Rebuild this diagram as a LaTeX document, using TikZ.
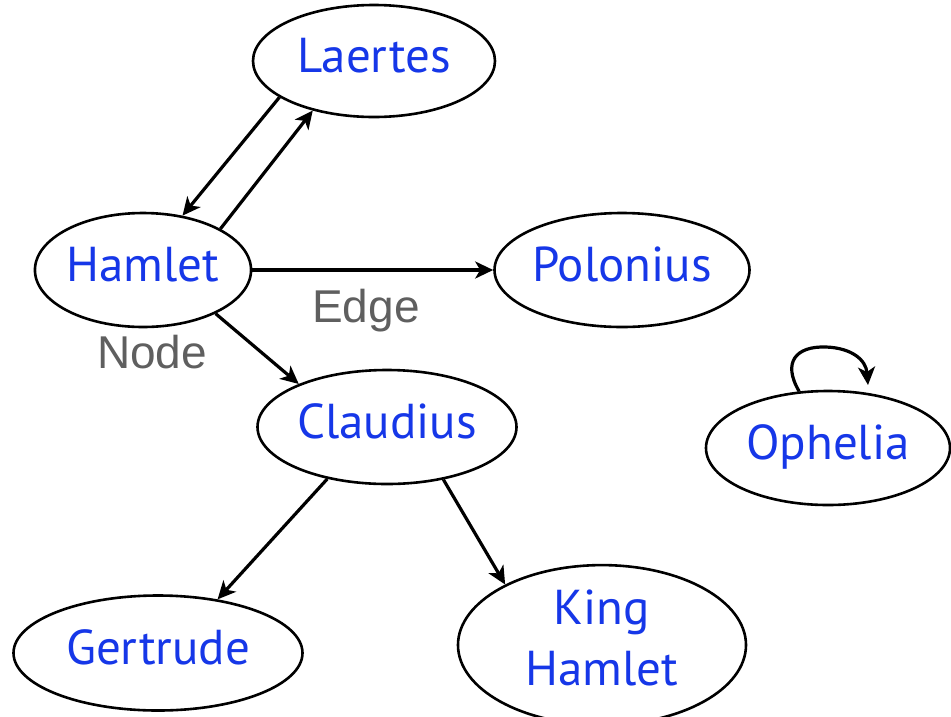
\documentclass[tikz,border=0pt]{standalone}
\usepackage{fontspec}
\setmainfont{PT Sans}
\newfontfamily\labelfont{Liberation Sans}
\usetikzlibrary{shapes.geometric,arrows.meta}

\definecolor{nameblue}{RGB}{22,55,232}
\definecolor{labelgray}{RGB}{95,95,95}

\tikzset{
  person/.style={ellipse, draw=black, line width=2.6pt, fill=white, inner sep=0pt,
    text=nameblue, font=\fontsize{49}{61}\selectfont, align=center,
    text height=36pt, text depth=14pt},
  link/.style={line width=3.2pt, -{Stealth[length=18pt,width=17pt,inset=5pt]}},
  caption/.style={text=labelgray, font=\labelfont\fontsize{46}{50}\selectfont, inner sep=0pt}
}

\begin{document}
\begin{tikzpicture}[x=1pt,y=-1pt]
  \useasboundingbox (0,0) rectangle (951,716);

  % characters
  \node[person, minimum width=242pt, minimum height=112pt] (laertes)  at (374,61)  {Laertes};
  \node[person, minimum width=216pt, minimum height=114pt] (hamlet)   at (143,270) {Hamlet};
  \node[person, minimum width=255pt, minimum height=114pt] (polonius) at (622,270) {Polonius};
  \node[person, minimum width=259pt, minimum height=114pt] (claudius) at (387,427) {Claudius};
  \node[person, minimum width=244pt, minimum height=114pt] (ophelia)  at (828,448) {Ophelia};
  \node[person, minimum width=289pt, minimum height=115pt] (gertrude) at (158,653) {Gertrude};
  \node[person, minimum width=288pt, minimum height=134pt,
        text height=97pt, text depth=16pt] (king) at (602,645) {King\\Hamlet};

  % relations
  \draw[link] (laertes.201) -- (hamlet.54);
  \draw[link] (hamlet.28) -- (laertes.219);
  \draw[link] (hamlet) -- (polonius);
  \draw[link] (hamlet.-31) -- (claudius.154);
  \draw[link] (claudius.221) -- (gertrude.42);
  \draw[link] (claudius.-43) -- (king.148);

  % self loop on Ophelia
  \coordinate (loopend) at (868,385);
  \draw[link] (ophelia.117) .. controls (782,362) and (796,346) .. (826,347)
              .. controls (852,348) and (866,360) .. (loopend);

  % annotations
  \node[caption, anchor=base] (edgelabel) at (366,322) {Edge};
  \node[caption, anchor=base] (nodelabel) at (152,368) {Node};
\end{tikzpicture}
\end{document}
